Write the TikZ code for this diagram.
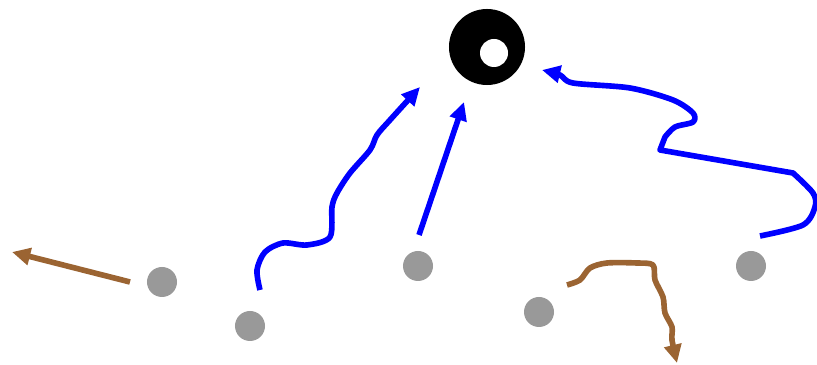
\documentclass[tikz,border=0pt]{standalone}
\usepackage{tikz}
\usetikzlibrary{arrows.meta}
\definecolor{runblue}{RGB}{0,0,255}
\definecolor{runbrown}{RGB}{155,100,50}
\definecolor{dotgray}{RGB}{153,153,153}
\tikzstyle{route}=[line width = 4pt, line join=round, -{Triangle[length=13pt, width=12pt]}]
\tikzstyle{pass}=[route, runblue]
\tikzstyle{drift}=[route, runbrown]

\begin{document}
\begin{tikzpicture}[x=0.025cm, y=-0.025cm]
				\useasboundingbox (0,0) rectangle (817,365);

				\coordinate (goal) at (487,47);
				\coordinate (hole) at (494,53);
				\coordinate (pa) at (162,282);
				\coordinate (pb) at (250,326);
				\coordinate (pc) at (418,266);
				\coordinate (pd) at (539,312);
				\coordinate (pe) at (751,266);

				\fill[black] (goal) circle [radius=0.95cm];
				\fill[white] (hole) circle [radius=0.35cm];

				\fill[dotgray] (pa) circle [radius=0.375cm];
				\fill[dotgray] (pb) circle [radius=0.375cm];
				\fill[dotgray] (pc) circle [radius=0.375cm];
				\fill[dotgray] (pd) circle [radius=0.375cm];
				\fill[dotgray] (pe) circle [radius=0.375cm];

				\coordinate (sa) at (130,282);
				\coordinate (ea) at (12,252);
				\coordinate (sc) at (419,235);
				\coordinate (ec) at (464,102);
				\coordinate (knee) at (660,150);

				\draw[drift] (sa) -- (ea);
				\draw[pass] (sc) -- (ec);
				\draw[pass] plot[smooth, tension=0.5] coordinates {(260,290) (257,270) (265,252) (283,243) (307,245) (330,237) (332,207) (337,193) (350,173) (370,150) (377,135) (390,120) (420,87)};
				\draw[pass] plot[smooth, tension=0.5] coordinates {(760,236) (803,225) (815,207) (813,193) (793,173)} -- (knee)
					-- plot[smooth, tension=0.5] coordinates {(665,137) (675,127) (693,122) (693,113) (673,100) (630,88) (573,83) (560,75) (542,70)};
				\draw[drift] plot[smooth, tension=0.5] coordinates {(567,285) (580,280) (590,268) (607,263) (637,263) (653,265) (655,280) (663,297) (665,313) (672,327) (672,340) (677,363)};
			\end{tikzpicture}
\end{document}
